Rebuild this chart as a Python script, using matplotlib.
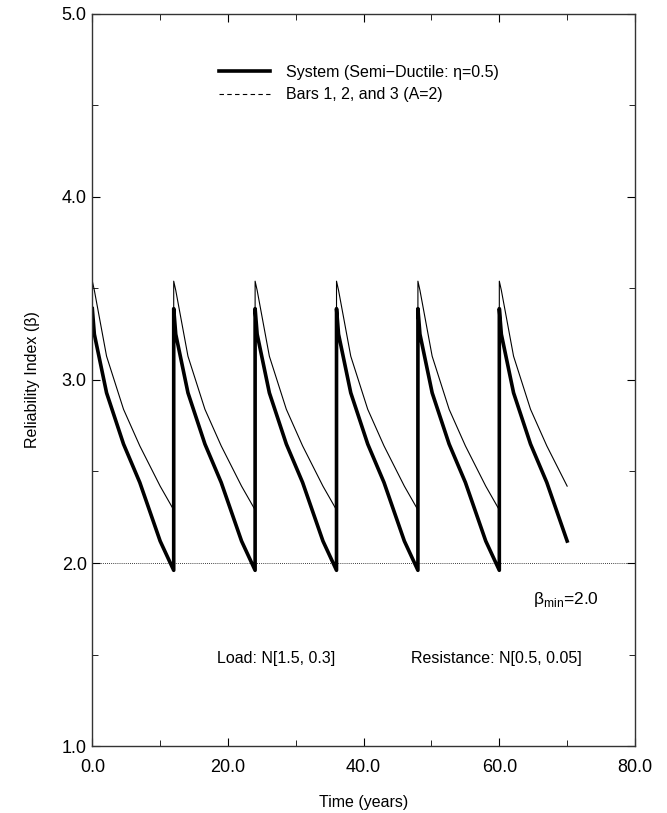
import numpy as np
import matplotlib
matplotlib.use('Agg')
import matplotlib.pyplot as plt
from matplotlib.lines import Line2D
from matplotlib.ticker import MultipleLocator, FormatStrFormatter

plt.rcParams['font.family'] = ['Liberation Sans', 'DejaVu Sans']

# one maintenance cycle (years after repair)
cycle_t = [0.0, 0.3, 2.1, 4.6, 7.0, 10.0, 12.0]
system_beta = [3.39, 3.25, 2.93, 2.65, 2.44, 2.12, 1.96]
bars_beta = [3.54, 3.49, 3.13, 2.84, 2.64, 2.42, 2.29]
repair_times = [0, 12, 24, 36, 48, 60]
end_time = 70.0
beta_min = 2.0

t_all, sys_all, bar_all = [], [], []
for s in repair_times:
    for t, b1, b2 in zip(cycle_t, system_beta, bars_beta):
        if s + t <= end_time + 1e-9:
            t_all.append(s + t)
            sys_all.append(b1)
            bar_all.append(b2)

fig = plt.figure(figsize=(6.67, 8.13), dpi=100)
ax = fig.add_axes([0.1384, 0.0824, 0.8136, 0.9004])

ax.plot(t_all, bar_all, color='black', lw=0.8)
ax.plot(t_all, sys_all, color='black', lw=2.6)
ax.axhline(beta_min, color='black', lw=0.6, ls=(0, (1, 1.5)))

ax.set_xlim(0, 80)
ax.set_ylim(1, 5)
ax.xaxis.set_major_locator(MultipleLocator(20))
ax.xaxis.set_minor_locator(MultipleLocator(10))
ax.yaxis.set_major_locator(MultipleLocator(1))
ax.yaxis.set_minor_locator(MultipleLocator(0.5))
ax.xaxis.set_major_formatter(FormatStrFormatter('%.1f'))
ax.yaxis.set_major_formatter(FormatStrFormatter('%.1f'))
ax.tick_params(which='both', direction='in', top=True, right=True, labelsize=13)
ax.tick_params(which='major', length=6, pad=4)
ax.tick_params(which='minor', length=4)
ax.tick_params(axis='x', which='major', pad=9)
for sp in ax.spines.values():
    sp.set_linewidth(1.0)
    sp.set_color('#333333')

ax.set_xlabel('Time (years)', fontsize=11.5, labelpad=14)
ax.set_ylabel('Reliability Index (\u03b2)', fontsize=11.5, labelpad=16)

ax.text(69.8, 1.80, '\u03b2$_{\\mathregular{min}}$=2.0', fontsize=12.5, ha='center', va='center')
ax.text(27.1, 1.48, 'Load: N[1.5, 0.3]', fontsize=11.5, ha='center', va='center')
ax.text(59.6, 1.48, 'Resistance: N[0.5, 0.05]', fontsize=11.5, ha='center', va='center')

handles = [Line2D([], [], color='black', lw=2.6),
           Line2D([], [], color='black', lw=0.8, ls=(0, (4, 3)))]
labels = ['System (Semi\u2212Ductile: \u03b7=0.5)', 'Bars 1, 2, and 3 (A=2)']
ax.legend(handles, labels, loc='upper left', bbox_to_anchor=(0.207, 0.95),
          frameon=False, fontsize=11.5, handlelength=3.2, handletextpad=1.0,
          labelspacing=0.45)

fig.savefig('out.png', dpi=100)
